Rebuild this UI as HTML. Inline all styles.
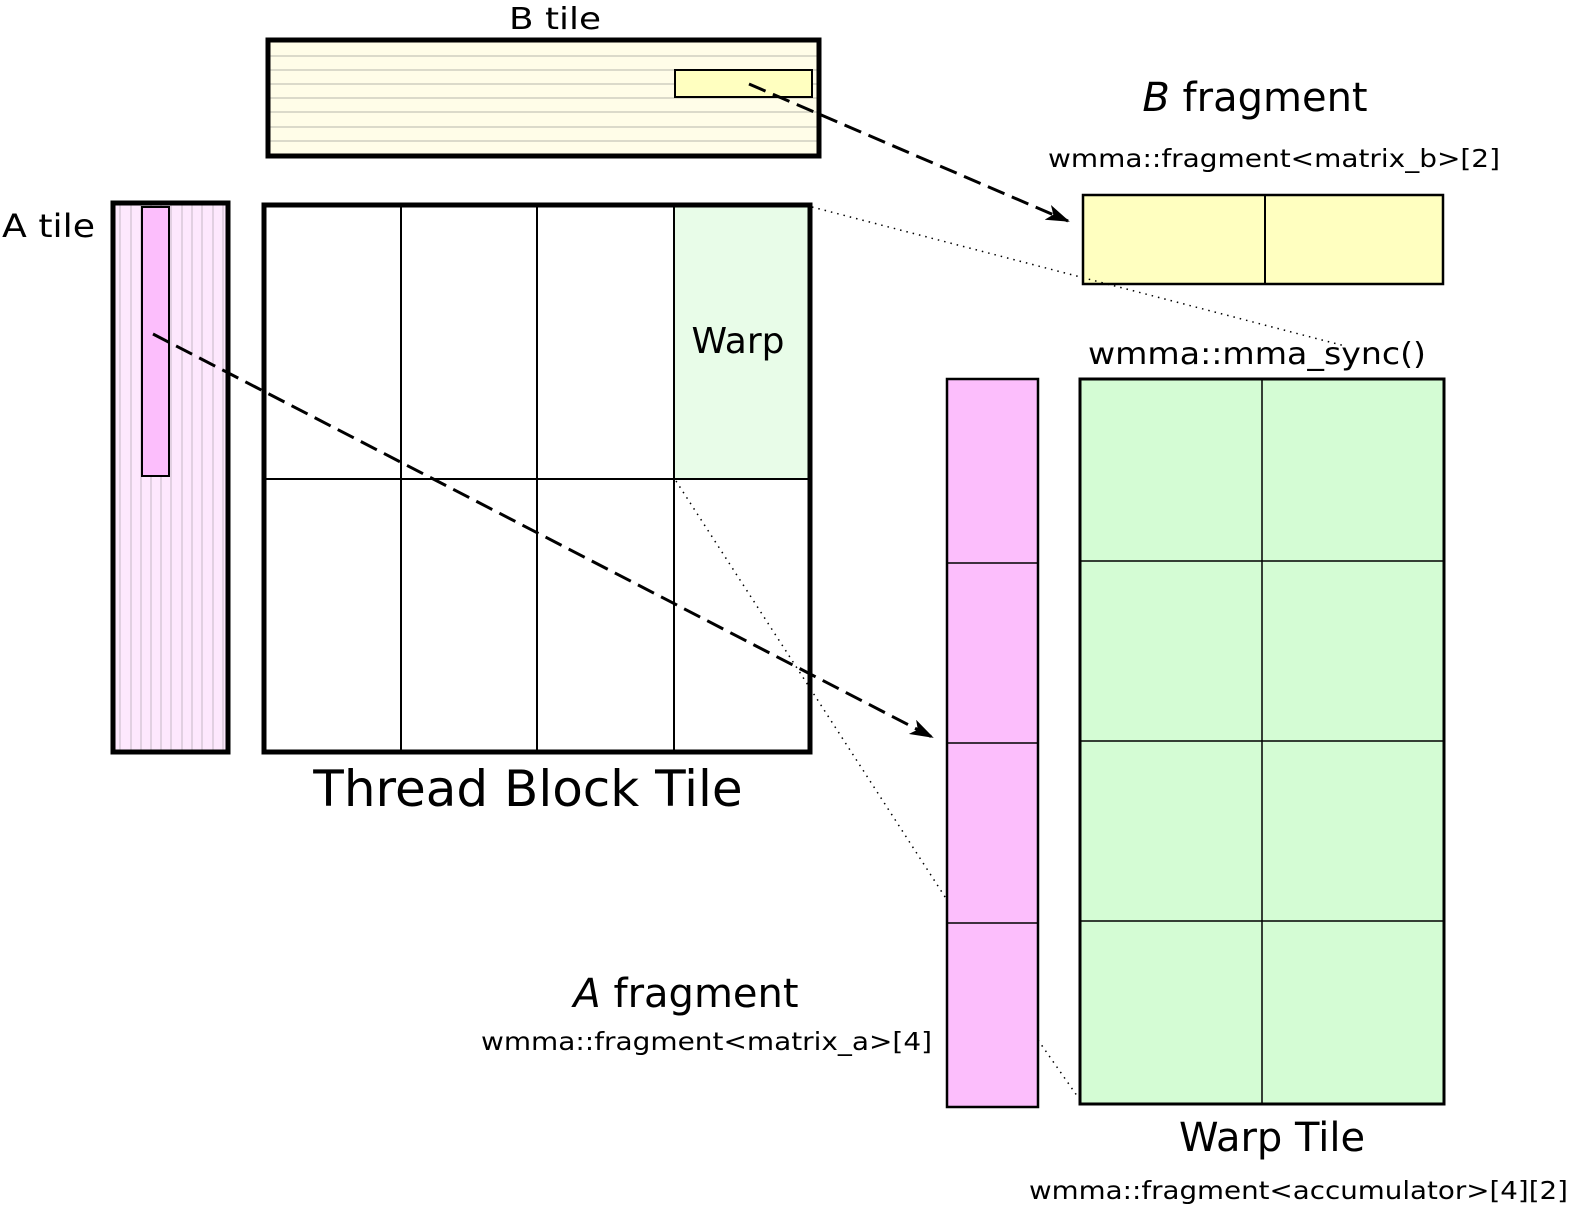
<!DOCTYPE html>
<html><head><meta charset="utf-8"><style>html,body{margin:0;padding:0;background:#fff}svg{display:block}</style></head>
<body>
<svg width="1573" height="1210" viewBox="0 0 1573 1210" xmlns="http://www.w3.org/2000/svg" font-family="DejaVu Sans, Liberation Sans, sans-serif">
<defs>
<marker id="ah" markerWidth="24" markerHeight="16" refX="22" refY="8" orient="auto" markerUnits="userSpaceOnUse" viewBox="0 0 24 16">
<path d="M0,0 L24,8 L0,16 L6,8 Z" fill="#000"/>
</marker>
</defs>
<!-- B tile -->
<rect x="268" y="40" width="551" height="116" fill="#fffde8" stroke="none"/>
<g stroke="#cfcfc0" stroke-width="1.5">
<line x1="270" y1="56" x2="817" y2="56"/><line x1="270" y1="70" x2="817" y2="70"/>
<line x1="270" y1="84" x2="817" y2="84"/><line x1="270" y1="98" x2="817" y2="98"/>
<line x1="270" y1="112" x2="817" y2="112"/><line x1="270" y1="127" x2="817" y2="127"/>
<line x1="270" y1="141" x2="817" y2="141"/>
</g>
<rect x="268" y="40" width="551" height="116" fill="none" stroke="#000" stroke-width="5"/>
<rect x="675" y="70" width="137" height="27" fill="#ffffc0" stroke="#000" stroke-width="2"/>
<!-- A tile -->
<rect x="113" y="203" width="115" height="549" fill="#fde8fd"/>
<g stroke="#d8c8d8" stroke-width="1.5">
<line x1="120" y1="205" x2="120" y2="750"/><line x1="131" y1="205" x2="131" y2="750"/>
<line x1="141" y1="205" x2="141" y2="750"/><line x1="151" y1="205" x2="151" y2="750"/>
<line x1="161" y1="205" x2="161" y2="750"/><line x1="171" y1="205" x2="171" y2="750"/>
<line x1="182" y1="205" x2="182" y2="750"/><line x1="192" y1="205" x2="192" y2="750"/>
<line x1="202" y1="205" x2="202" y2="750"/><line x1="213" y1="205" x2="213" y2="750"/>
<line x1="223" y1="205" x2="223" y2="750"/>
</g>
<rect x="113" y="203" width="115" height="549" fill="none" stroke="#000" stroke-width="5"/>
<rect x="142" y="207" width="27" height="269" fill="#fcbefc" stroke="#000" stroke-width="2"/>
<!-- Thread block -->
<rect x="674" y="207" width="135" height="272" fill="#e8fce8"/>
<g stroke="#000" stroke-width="2">
<line x1="401" y1="205" x2="401" y2="752"/><line x1="537" y1="205" x2="537" y2="752"/>
<line x1="674" y1="205" x2="674" y2="752"/><line x1="264" y1="479" x2="810" y2="479"/>
</g>
<rect x="264" y="205" width="546" height="547" fill="none" stroke="#000" stroke-width="5"/>
<!-- B fragment -->
<rect x="1083" y="195" width="360" height="89" fill="#ffffc0" stroke="#000" stroke-width="2.5"/>
<line x1="1265" y1="195" x2="1265" y2="284" stroke="#000" stroke-width="2"/>
<!-- A fragment -->
<rect x="947" y="379" width="91" height="728" fill="#fcbefc" stroke="#000" stroke-width="2.5"/>
<g stroke="#000" stroke-width="1.5"><line x1="947" y1="563" x2="1038" y2="563"/><line x1="947" y1="743" x2="1038" y2="743"/><line x1="947" y1="923" x2="1038" y2="923"/></g>
<!-- Warp tile -->
<rect x="1080" y="379" width="364" height="725" fill="#d4fcd4" stroke="#000" stroke-width="3"/>
<g stroke="#000" stroke-width="1.5"><line x1="1262" y1="379" x2="1262" y2="1104"/><line x1="1080" y1="561" x2="1444" y2="561"/><line x1="1080" y1="741" x2="1444" y2="741"/><line x1="1080" y1="921" x2="1444" y2="921"/></g>
<!-- dotted -->
<g stroke="#000" stroke-width="1.5" stroke-dasharray="1.5,5" fill="none">
<line x1="812" y1="207" x2="1345" y2="346"/>
<line x1="676" y1="481" x2="947" y2="900"/>
<line x1="1038" y1="1040" x2="1080" y2="1100"/>
</g>
<!-- arrows -->
<g stroke="#000" stroke-width="3" stroke-dasharray="18,8" fill="none">
<line x1="749" y1="84" x2="1068" y2="221" marker-end="url(#ah)"/>
<line x1="153" y1="334" x2="932" y2="737" marker-end="url(#ah)"/>
</g>
<!-- text -->
<g fill="#000">
<text x="509" y="29" font-size="30" textLength="92" lengthAdjust="spacingAndGlyphs">B tile</text>
<text x="2" y="237" font-size="32" textLength="93" lengthAdjust="spacingAndGlyphs">A tile</text>
<text x="528" y="806" font-size="50" text-anchor="middle">Thread Block Tile</text>
<text x="738" y="353" font-size="36" text-anchor="middle">Warp</text>
<text x="1255" y="111" font-size="40" text-anchor="middle"><tspan font-style="italic">B</tspan> fragment</text>
<text x="1048" y="167" font-size="25" textLength="452" lengthAdjust="spacingAndGlyphs">wmma::fragment&lt;matrix_b&gt;[2]</text>
<text x="1088" y="364" font-size="30" textLength="338" lengthAdjust="spacingAndGlyphs">wmma::mma_sync()</text>
<text x="686" y="1007" font-size="40" text-anchor="middle"><tspan font-style="italic">A</tspan> fragment</text>
<text x="481" y="1050" font-size="25" textLength="451" lengthAdjust="spacingAndGlyphs">wmma::fragment&lt;matrix_a&gt;[4]</text>
<text x="1272" y="1151" font-size="40" text-anchor="middle">Warp Tile</text>
<text x="1029" y="1199" font-size="25" textLength="539" lengthAdjust="spacingAndGlyphs">wmma::fragment&lt;accumulator&gt;[4][2]</text>
</g>
</svg>
</body></html>
